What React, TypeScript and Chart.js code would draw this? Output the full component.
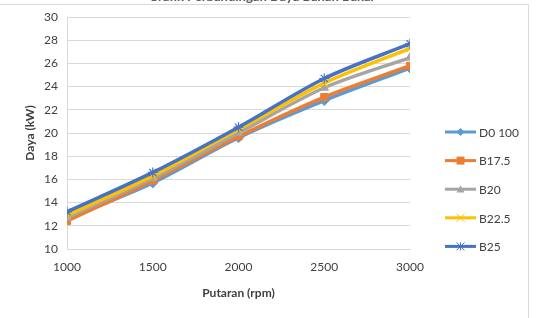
import React, { useEffect, useRef } from "react";
import { Chart, registerables } from "chart.js";

Chart.register(...registerables);

const rpm = [1000, 1500, 2000, 2500, 3000];
const seriesNames = ["D0 100", "B17.5", "B20", "B22.5", "B25"];
const d0 = [12.6, 15.7, 19.6, 22.8, 25.6];
const b175 = [12.4, 15.9, 19.7, 23.1, 25.8];
const b20 = [12.7, 16.1, 20.0, 23.9, 26.5];
const b225 = [12.9, 16.3, 20.3, 24.3, 27.3];
const b25 = [13.2, 16.6, 20.5, 24.7, 27.7];
const yTicks = [10, 12, 14, 16, 18, 20, 22, 24, 26, 28, 30];
const xTicks = [1000, 1500, 2000, 2500, 3000];
const titleText = "Grafik Perbandingan Daya Bahan Bakar";
const xTitle = "Putaran (rpm)";
const yTitle = "Daya (kW)";

const colors = ["#5B9BD5", "#ED7D31", "#A5A5A5", "#FFC000", "#4472C4"];
const markers = ["rectRot", "rect", "triangle", "crossRot", "star"];
const FONT = "Lato, 'Liberation Sans', sans-serif";
const TEXT = "#404040";

function drawMarker(ctx: any, style: string, x: number, y: number, r: number) {
  ctx.beginPath();
  if (style === "rectRot") {
    ctx.moveTo(x, y - r);
    ctx.lineTo(x + r, y);
    ctx.lineTo(x, y + r);
    ctx.lineTo(x - r, y);
    ctx.closePath();
    ctx.fill();
  } else if (style === "rect") {
    ctx.rect(x - r, y - r, 2 * r, 2 * r);
    ctx.fill();
  } else if (style === "triangle") {
    ctx.moveTo(x, y - r);
    ctx.lineTo(x + r, y + r * 0.8);
    ctx.lineTo(x - r, y + r * 0.8);
    ctx.closePath();
    ctx.fill();
  } else if (style === "crossRot") {
    ctx.moveTo(x - r, y - r);
    ctx.lineTo(x + r, y + r);
    ctx.moveTo(x + r, y - r);
    ctx.lineTo(x - r, y + r);
    ctx.stroke();
  } else {
    ctx.moveTo(x - r, y - r);
    ctx.lineTo(x + r, y + r);
    ctx.moveTo(x + r, y - r);
    ctx.lineTo(x - r, y + r);
    ctx.moveTo(x, y - r);
    ctx.lineTo(x, y + r);
    ctx.stroke();
  }
}

const frame = {
  id: "frame",
  beforeDraw(chart: any) {
    const ctx = chart.ctx;
    ctx.save();
    ctx.fillStyle = "#ffffff";
    ctx.fillRect(0, 0, chart.width, chart.height);
    ctx.strokeStyle = "#D9D9D9";
    ctx.lineWidth = 1;
    ctx.beginPath();
    ctx.moveTo(0, 4.5);
    ctx.lineTo(528.5, 4.5);
    ctx.lineTo(528.5, chart.height + 2);
    ctx.stroke();
    ctx.fillStyle = "#595959";
    ctx.font = "bold 13px " + FONT;
    ctx.textAlign = "center";
    ctx.textBaseline = "alphabetic";
    ctx.fillText(titleText, 262, 1);
    ctx.restore();
  },
  afterDraw(chart: any) {
    const ctx = chart.ctx;
    ctx.save();
    chart.data.datasets.forEach((ds: any, i: number) => {
      const y = 132 + i * 28.6;
      ctx.strokeStyle = ds.borderColor;
      ctx.lineWidth = 3;
      ctx.beginPath();
      ctx.moveTo(445, y);
      ctx.lineTo(476, y);
      ctx.stroke();
      ctx.fillStyle = ds.borderColor;
      ctx.strokeStyle = ds.borderColor;
      ctx.lineWidth = 1;
      drawMarker(ctx, markers[i], 460.5, y, 4);
      ctx.fillStyle = TEXT;
      ctx.font = "12px " + FONT;
      ctx.textAlign = "left";
      ctx.textBaseline = "middle";
      ctx.fillText(ds.label, 479, y + 1);
    });
    ctx.restore();
  },
};

export default function App() {
  const ref = useRef<HTMLCanvasElement>(null);
  useEffect(() => {
    const all = [d0, b175, b20, b225, b25];
    const chart = new Chart(ref.current as HTMLCanvasElement, {
      type: "line",
      data: {
        datasets: all.map((vals, i) => ({
          label: seriesNames[i],
          data: vals.map((v, j) => ({ x: rpm[j], y: v })),
          borderColor: colors[i],
          backgroundColor: colors[i],
          borderWidth: 3.5,
          pointStyle: markers[i] as any,
          pointRadius: 5,
          pointBorderWidth: markers[i] === "star" || markers[i] === "crossRot" ? 1.2 : 1,
          pointBorderColor: colors[i],
          pointBackgroundColor: colors[i],
          tension: 0.3,
          order: 4 - i,
        })),
      },
      options: {
        animation: false,
        responsive: false,
        layout: { padding: { left: 23, right: 130, top: 17, bottom: 18 } },
        plugins: {
          legend: { display: false },
          tooltip: { enabled: false },
          title: { display: false },
        },
        scales: {
          x: {
            type: "linear",
            min: 1000,
            max: 3000,
            afterBuildTicks: (s: any) => {
              s.ticks = xTicks.map((v) => ({ value: v }));
            },
            afterFit: (s: any) => {
              s.height = 51;
            },
            grid: { display: false, drawTicks: false },
            border: { display: true, color: "#D9D9D9" },
            ticks: {
              padding: 11,
              color: TEXT,
              font: { family: FONT, size: 12 },
              callback: (v: any) => String(v),
            },
            title: {
              display: true,
              text: xTitle,
              color: TEXT,
              font: { family: FONT, size: 12, weight: "bold" },
              padding: { top: 0, bottom: 0 },
            },
          },
          y: {
            min: 10,
            max: 30,
            afterBuildTicks: (s: any) => {
              s.ticks = yTicks.map((v) => ({ value: v }));
            },
            afterFit: (s: any) => {
              s.width = 44;
            },
            grid: { color: "#D9D9D9", drawTicks: false },
            border: { display: true, color: "#D9D9D9" },
            ticks: {
              padding: 9,
              color: TEXT,
              font: { family: FONT, size: 12 },
            },
            title: {
              display: true,
              text: yTitle,
              color: TEXT,
              font: { family: FONT, size: 12, weight: "bold" },
              padding: { top: 0, bottom: 4 },
            },
          },
        },
      },
      plugins: [frame],
    } as any);
    return () => chart.destroy();
  }, []);
  return (
    <canvas
      ref={ref}
      width={540}
      height={318}
      style={{ position: "absolute", left: 0, top: 0, width: 540, height: 318 }}
    />
  );
}
